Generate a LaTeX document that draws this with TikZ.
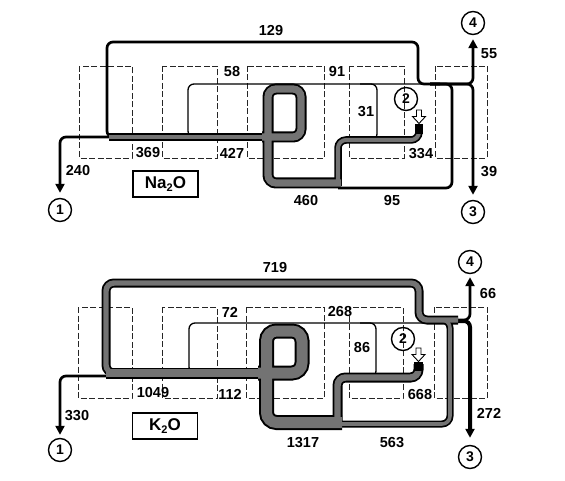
\documentclass[tikz,border=0pt]{standalone}
\usepackage{fontspec}
\setmainfont{Liberation Sans}
\usetikzlibrary{arrows.meta}
\begin{document}
\begin{tikzpicture}[x=1pt,y=-1pt,
  lbl/.style={font=\fontsize{14.5}{16}\selectfont\bfseries, inner sep=0pt},
  dbox/.style={draw=black!85, line width=0.9pt, dash pattern=on 6pt off 2.5pt},
  circ/.style={draw, circle, line width=1.4pt, minimum size=23pt, inner sep=0pt, font=\fontsize{14}{15}\selectfont\bfseries},
  thinl/.style={line width=1.3pt, rounded corners=6pt},
  medl/.style={line width=2.7pt, rounded corners=6pt},
  tip/.style={-{Triangle[width=9pt,length=9pt]}},
  bo/.style={line width=#1, rounded corners=8pt},
  bi/.style={line width=#1, rounded corners=8pt, draw=black!55},
  chem/.style={draw, line width=1.2pt, minimum width=65pt, minimum height=26pt, inner sep=0pt, font=\fontsize{17}{19}\selectfont\bfseries},
  hollow/.style={draw, line width=0.9pt, fill=white}
]
\useasboundingbox (0,0) rectangle (565,481);

% ================= TOP PANEL (Na2O) =================
\foreach \a/\b in {79/132,162/217,247/324,349/404,435/487}
  \draw[dbox] (\a,66) rectangle (\b,158);

\node[circ] (t1) at (60,210) {1};
\node[circ] (t2) at (406,99) {2};
\node[circ] (t3) at (473,212) {3};
\node[circ] (t4) at (473,23) {4};

% thin loops
\draw[thinl] (200,137) -- (188,137) -- (188,84) -- (445,84);
\draw[thinl] (360,84) -- (377,84) -- (377,140) -- (365,140);
% medium black lines
\draw[medl] (120,137) -- (107,137) -- (107,42) -- (418,42) -- (418,84) -- (440,84);
\draw[medl] (430,84) -- (452,84) -- (452,188) -- (338,188);
\draw[medl,tip,shorten >=4pt] (430,84) -| (t4.south);
\draw[medl,tip,shorten >=5pt] (430,84) -| (t3.north);
\draw[medl,tip,shorten >=5pt] (112,137) -| (t1.north);

% bands: outline layer
\draw[bo=8pt] (108.5,137) -- (290,137);
\draw[bo=11pt] (262,137) -- (301,137) -- (301,89) -- (268,89) -- (268,183) -- (341,183);
\draw[bo=7.5pt] (338,186) -- (338,140) -- (419,140) -- (419,126);
% bands: fill layer
\draw[bi=4.6pt] (108.5,137) -- (290,137);
\draw[bi=7.2pt] (262,137) -- (301,137) -- (301,89) -- (268,89) -- (268,183) -- (341,183);
\draw[bi=4.1pt] (338,186) -- (338,140) -- (419,140) -- (419,126);
\fill (415,124) rectangle (423,134);
\draw[hollow] (416.5,110) -- (421.5,110) -- (421.5,116.5) -- (425.5,116.5) -- (419,123.5) -- (412.5,116.5) -- (416.5,116.5) -- cycle;

\node[chem] (tna) at (165.5,184) {Na\raisebox{-0.35ex}{\fontsize{11}{11}\selectfont 2}O};

\node[lbl] (l129) at (271,31) {129};
\node[lbl] (l58) at (232,72) {58};
\node[lbl] (l91) at (337,72) {91};
\node[lbl] (l31) at (366,112) {31};
\node[lbl] (l369) at (148,153) {369};
\node[lbl] (l427) at (232,153) {427};
\node[lbl] (l334) at (421,154) {334};
\node[lbl] (l240) at (78,171) {240};
\node[lbl] (l460) at (306,201) {460};
\node[lbl] (l95) at (392,201) {95};
\node[lbl] (l55) at (489,54) {55};
\node[lbl] (l39) at (489,172) {39};

% ================= BOTTOM PANEL (K2O) =================
\foreach \a/\b in {78/132,162/217,246/324,349/403,434/487}
  \draw[dbox] (\a,307) rectangle (\b,398);

\node[circ] (b1) at (60,450) {1};
\node[circ] (b2) at (403,339) {2};
\node[circ] (b3) at (470,457) {3};
\node[circ] (b4) at (470,262) {4};

\draw[thinl] (200,373) -- (189,373) -- (189,323) -- (440,323);
\draw[thinl] (360,323) -- (376,323) -- (376,377) -- (365,377);
\draw[medl,tip,shorten >=3pt] (112,376) -| (b1.north);
\draw[medl,tip,shorten >=3pt] (440,320) -| (b4.south);
\draw[line width=4pt, rounded corners=6pt,tip,shorten >=7pt] (440,321) -| (b3.north);

% outline layer
\draw[bo=9pt] (120,373) -- (106,373) -- (106,283) -- (419,283) -- (419,320) -- (458,320);
\draw[bo=7pt] (430,320) -- (450,320) -- (450,424) -- (340,424);
\draw[bo=11pt] (106,373) -- (290,373);
\draw[bo=15pt, rounded corners=10pt] (258,373) -- (302,373) -- (302,331) -- (266.5,331) -- (266.5,422.5) -- (342,422.5);
\draw[bo=10pt] (337.5,426) -- (337.5,377.5) -- (418.5,377.5) -- (418.5,364);
% fill layer
\draw[bi=5.4pt] (120,373) -- (106,373) -- (106,283) -- (419,283) -- (419,320) -- (458,320);
\draw[bi=3.6pt] (430,320) -- (450,320) -- (450,424) -- (340,424);
\draw[bi=7.4pt] (106,373) -- (290,373);
\draw[bi=11pt, rounded corners=10pt] (258,373) -- (302,373) -- (302,331) -- (266.5,331) -- (266.5,422.5) -- (342,422.5);
\draw[bi=6.4pt] (337.5,426) -- (337.5,377.5) -- (418.5,377.5) -- (418.5,364);
\fill (414,362) rectangle (423,371);
\draw[hollow] (416,348) -- (421,348) -- (421,354.5) -- (425,354.5) -- (418.5,361.5) -- (412,354.5) -- (416,354.5) -- cycle;

\node[chem] (bk) at (165,426) {K\raisebox{-0.35ex}{\fontsize{11}{11}\selectfont 2}O};

\node[lbl] (l719) at (275,268) {719};
\node[lbl] (l72) at (230,312) {72};
\node[lbl] (l268) at (340,312) {268};
\node[lbl] (l86) at (362,348) {86};
\node[lbl] (l1049) at (153,393) {1049};
\node[lbl] (l112) at (230,394) {112};
\node[lbl] (l668) at (420,395) {668};
\node[lbl] (l330) at (77,416) {330};
\node[lbl] (l1317) at (303,443) {1317};
\node[lbl] (l563) at (392,443) {563};
\node[lbl] (l66) at (488,294) {66};
\node[lbl] (l272) at (489,413) {272};
\end{tikzpicture}
\end{document}
